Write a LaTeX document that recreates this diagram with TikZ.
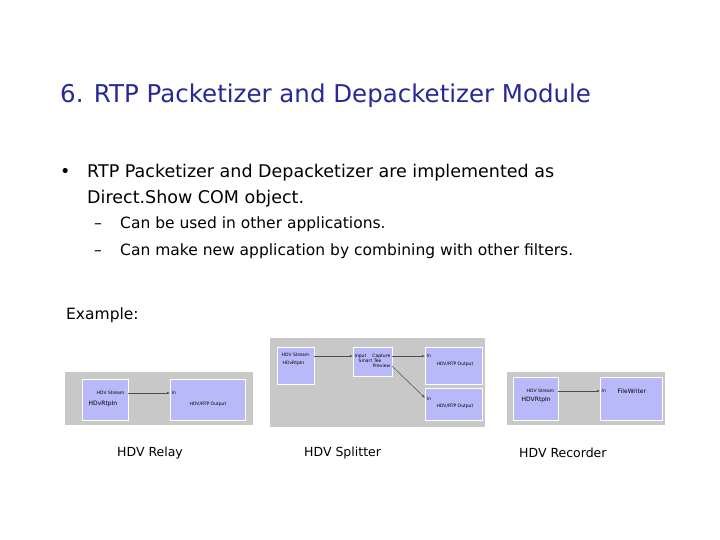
\documentclass[tikz,border=0pt]{standalone}
\usepackage{fontspec}
\setmainfont{DejaVu Sans}
\usetikzlibrary{arrows.meta}
\definecolor{ttl}{RGB}{40,40,150}
\definecolor{pnl}{RGB}{200,200,200}
\definecolor{flt}{RGB}{185,185,250}
\begin{document}
\begin{tikzpicture}[x=1pt,y=-1pt,
  panel/.style={fill=pnl,draw=none},
  filt/.style={fill=flt,draw=white,line width=1pt},
  tiny/.style={font=\fontsize{4.5}{5}\selectfont,inner sep=0.5pt},
  small/.style={font=\fontsize{6}{7}\selectfont,inner sep=0.5pt},
  con/.style={draw=black!70,line width=0.5pt,-{Latex[length=3pt]}},
  body/.style={anchor=base west,font=\fontsize{17.5}{20}\selectfont,inner sep=0},
  sub/.style={anchor=base west,font=\fontsize{15.5}{18}\selectfont,inner sep=0},
  captxt/.style={font=\fontsize{12.5}{14}\selectfont,anchor=west,inner sep=0}]
\useasboundingbox (0,0) rectangle (720,540);
\fill[white] (0,0) rectangle (720,540);
\node[anchor=base west,text=ttl,font=\fontsize{24.5}{28}\selectfont,inner sep=0] (title) at (60,103) {6. RTP Packetizer and Depacketizer Module};
\node[body] (b1) at (60,178) {•};
\node[body] (t1) at (87,178) {RTP Packetizer and Depacketizer are implemented as};
\node[body] (t2) at (87,204) {Direct.Show COM object.};
\node[sub] (d1) at (94,229) {–};
\node[sub] (s1) at (120,229) {Can be used in other applications.};
\node[sub] (d2) at (94,255) {–};
\node[sub] (s2) at (120,255) {Can make new application by combining with other filters.};
\node[sub] (ex) at (66,319) {Example:};
% relay
\fill[panel] (65,372) rectangle (253,425);
\draw[filt] (82,379) rectangle (128,420);
\draw[filt] (170,379) rectangle (245,420);
\node[tiny,anchor=east] (r1) at (125,393) {HDV Stream};
\node[small,anchor=west] (r2) at (88,404) {HDvRtpIn};
\coordinate (ro) at (128,393);
\coordinate (ri) at (170,393);
\draw[con] (ro) -- (ri);
\node[tiny,anchor=west] (r3) at (171,393) {In};
\node[tiny,anchor=center] (r4) at (208,404) {HDV/RTP Output};
\node[captxt] (c1) at (117,453) {HDV Relay};
% splitter
\fill[panel] (270,338) rectangle (485,427);
\draw[filt] (277,347) rectangle (314,384);
\draw[filt] (353,347) rectangle (392,376);
\draw[filt] (425,347) rectangle (482,384);
\draw[filt] (425,388) rectangle (482,420);
\node[tiny,anchor=east] (p1) at (310,355) {HDV Stream};
\node[tiny,anchor=west] (p2) at (282,363) {HDvRtpIn};
\coordinate (po) at (314,356);
\coordinate (pi) at (353,356);
\draw[con] (po) -- (pi);
\node[tiny,anchor=west] (p3) at (354,356) {Input};
\node[tiny,anchor=east] (p4) at (391,356) {Capture};
\node[tiny] (p5) at (370,361) {Smart Tee};
\node[tiny,anchor=east] (p6) at (391,366) {Preview};
\coordinate (pc) at (392,356);
\coordinate (pp) at (392,366);
\coordinate (q1) at (425,356);
\coordinate (q2) at (425,398);
\draw[con] (pc) -- (q1);
\draw[con] (pp) -- (q2);
\node[tiny,anchor=west] (p7) at (426,356) {In};
\node[tiny,anchor=west] (p8) at (426,399) {In};
\node[tiny] (p9) at (455,364) {HDV/RTP Output};
\node[tiny] (p10) at (455,406) {HDV/RTP Output};
\node[captxt] (c2) at (304,453) {HDV Splitter};
% recorder
\fill[panel] (507,372) rectangle (665,425);
\draw[filt] (513,377) rectangle (558,420);
\draw[filt] (600,377) rectangle (662,420);
\node[tiny,anchor=east] (w1) at (555,391) {HDV Stream};
\node[small,anchor=west] (w2) at (521,400) {HDVRtpIn};
\coordinate (wo) at (558,391);
\coordinate (wi) at (600,391);
\draw[con] (wo) -- (wi);
\node[tiny,anchor=west] (w3) at (601,391) {In};
\node[small,anchor=west] (w4) at (617,391) {FileWriter};
\node[captxt] (c3) at (519,453) {HDV Recorder};
\end{tikzpicture}
\end{document}
